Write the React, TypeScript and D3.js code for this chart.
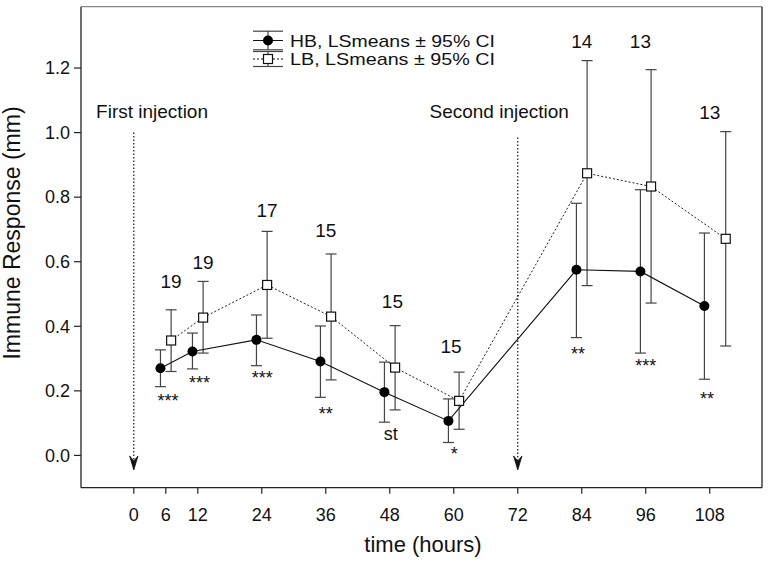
import { useMemo } from "react";
import * as d3 from "d3";

// HB group (filled circles)
const hbHours = [5, 11, 23, 35, 47, 59, 83, 95, 107];
const hbMeans = [0.27, 0.322, 0.358, 0.291, 0.196, 0.107, 0.575, 0.57, 0.463];
const hbLower = [0.213, 0.268, 0.278, 0.18, 0.103, 0.04, 0.365, 0.317, 0.236];
const hbUpper = [0.327, 0.379, 0.435, 0.401, 0.289, 0.175, 0.781, 0.823, 0.689];

// LB group (open squares)
const lbHours = [7, 13, 25, 37, 49, 61, 85, 97, 111];
const lbMeans = [0.356, 0.427, 0.528, 0.43, 0.272, 0.169, 0.874, 0.833, 0.671];
const lbLower = [0.26, 0.317, 0.363, 0.234, 0.141, 0.081, 0.526, 0.472, 0.339];
const lbUpper = [0.451, 0.539, 0.694, 0.624, 0.402, 0.258, 1.223, 1.195, 1.003];

// sample sizes above the bars
const nLabels = ["19", "19", "17", "15", "15", "15", "14", "13", "13"];
const nHours = [7, 13, 25, 36, 48.5, 59.5, 84, 95, 108];
const nValues = [0.518, 0.578, 0.738, 0.676, 0.456, 0.317, 1.262, 1.262, 1.042];

// significance marks below the bars
const sigLabels = ["***", "***", "***", "**", "st", "*", "**", "***", "**"];
const sigHours = [6.4, 12.3, 24.1, 36, 48.2, 60.1, 83.3, 96, 107.5];
const sigValues = [0.182, 0.239, 0.254, 0.143, 0.066, 0.019, 0.328, 0.289, 0.189];

// injections
const injectionLabels = ["First injection", "Second injection"];
const injectionHours = [0, 72];
const injectionFrom = [1.0, 0.985];
const injectionTip = -0.045;

const xTicks = [0, 6, 12, 24, 36, 48, 60, 72, 84, 96, 108];
const yTicks = [0, 0.2, 0.4, 0.6, 0.8, 1.0, 1.2];

const legendLabels = ["HB, LSmeans \u00b1 95% CI", "LB, LSmeans \u00b1 95% CI"];

const W = 770;
const H = 567;
const FONT = "'Liberation Sans', Arial, Helvetica, sans-serif";

const App = () => {
  const margin = { top: 6.7, right: 8, bottom: 79.3, left: 81 };
  const x = useMemo(
    () => d3.scaleLinear().domain([-9.9, 117.8]).range([margin.left, W - margin.right]),
    []
  );
  const y = useMemo(
    () => d3.scaleLinear().domain([-0.1, 1.39]).range([H - margin.bottom, margin.top]),
    []
  );

  const x0 = margin.left;
  const x1 = W - margin.right;
  const y0 = H - margin.bottom;
  const y1 = margin.top;

  const hb = hbHours.map((h, i) => ({ h, m: hbMeans[i], lo: hbLower[i], hi: hbUpper[i] }));
  const lb = lbHours.map((h, i) => ({ h, m: lbMeans[i], lo: lbLower[i], hi: lbUpper[i] }));

  const line = d3
    .line<{ h: number; m: number }>()
    .x((d) => x(d.h))
    .y((d) => y(d.m));

  const cap = 5.5;
  const errColor = "#444";

  const errorBars = (data: typeof hb, key: string) =>
    data.map((d, i) => (
      <g key={key + i} stroke={errColor} strokeWidth={1.2}>
        <line x1={x(d.h)} x2={x(d.h)} y1={y(d.lo)} y2={y(d.hi)} />
        <line x1={x(d.h) - cap} x2={x(d.h) + cap} y1={y(d.hi)} y2={y(d.hi)} />
        <line x1={x(d.h) - cap} x2={x(d.h) + cap} y1={y(d.lo)} y2={y(d.lo)} />
      </g>
    ));

  // legend geometry
  const lgX0 = 253;
  const lgX1 = 283;
  const lgMid = (lgX0 + lgX1) / 2;
  const lgRows = [40.5, 59];
  const lgCaps = [9.3, 7.5];

  return (
    <svg
      width={W}
      height={H}
      style={{ position: "absolute", left: 0, top: 0, background: "#fff" }}
      fontFamily={FONT}
    >
      {/* frame */}
      <line x1={x0} x2={x1} y1={y1} y2={y1} stroke="#888" strokeWidth={1.3} />
      <line x1={x0} x2={x0} y1={y1} y2={y0} stroke="#222" strokeWidth={1.3} />
      <line x1={x1} x2={x1} y1={y1} y2={y0} stroke="#222" strokeWidth={1.3} />
      <line x1={x0} x2={x1} y1={y0} y2={y0} stroke="#222" strokeWidth={1.3} />

      {/* y axis ticks */}
      {yTicks.map((t) => (
        <g key={"y" + t}>
          <line x1={x0 - 7} x2={x0} y1={y(t)} y2={y(t)} stroke="#222" strokeWidth={1.2} />
          <text x={x0 - 11} y={y(t)} dy="0.35em" textAnchor="end" fontSize={18} fill="#111">
            {t.toFixed(1)}
          </text>
        </g>
      ))}

      {/* x axis ticks */}
      {xTicks.map((t) => (
        <g key={"x" + t}>
          <line x1={x(t)} x2={x(t)} y1={y0} y2={y0 + 6} stroke="#222" strokeWidth={1.2} />
          <text x={x(t)} y={y0 + 33} textAnchor="middle" fontSize={18} fill="#111">
            {t}
          </text>
        </g>
      ))}

      {/* axis titles */}
      <text x={423} y={552} textAnchor="middle" fontSize={22} fill="#111">
        time (hours)
      </text>
      <text
        transform={`translate(20, ${233}) rotate(-90)`}
        textAnchor="middle"
        fontSize={23}
        fill="#111"
      >
        Immune Response (mm)
      </text>

      {/* injection arrows */}
      {injectionHours.map((h, i) => {
        const ax = x(h);
        const tip = y(injectionTip);
        return (
          <g key={"inj" + i}>
            <line
              x1={ax}
              x2={ax}
              y1={y(injectionFrom[i])}
              y2={tip - 8}
              stroke="#111"
              strokeWidth={1.2}
              strokeDasharray="1.5,2"
            />
            <path
              d={`M${ax},${tip} L${ax - 4.2},${tip - 14} L${ax},${tip - 9} L${ax + 4.2},${tip - 14} Z`}
              fill="#111"
              stroke="#111"
              strokeWidth={0.8}
            />
          </g>
        );
      })}
      <text x={x(-7.07)} y={y(1.045)} fontSize={19} fill="#111">
        {injectionLabels[0]}
      </text>
      <text x={x(81.6)} y={y(1.045)} textAnchor="end" fontSize={19} fill="#111">
        {injectionLabels[1]}
      </text>

      {/* error bars */}
      {errorBars(lb, "lbe")}
      {errorBars(hb, "hbe")}

      {/* connecting lines */}
      <path d={line(lb) || ""} fill="none" stroke="#222" strokeWidth={1} strokeDasharray="2,2" />
      <path d={line(hb) || ""} fill="none" stroke="#111" strokeWidth={1.1} />

      {/* markers */}
      {lb.map((d, i) => (
        <rect
          key={"lbm" + i}
          x={x(d.h) - 4.5}
          y={y(d.m) - 4.5}
          width={9}
          height={9}
          fill="#fff"
          stroke="#111"
          strokeWidth={1.2}
        />
      ))}
      {hb.map((d, i) => (
        <circle key={"hbm" + i} cx={x(d.h)} cy={y(d.m)} r={5} fill="#000" />
      ))}

      {/* sample sizes */}
      {nLabels.map((s, i) => (
        <text key={"n" + i} x={x(nHours[i])} y={y(nValues[i])} textAnchor="middle" fontSize={19} fill="#111">
          {s}
        </text>
      ))}

      {/* significance */}
      {sigLabels.map((s, i) => (
        <text
          key={"s" + i}
          x={x(sigHours[i])}
          y={y(sigValues[i])}
          dy={s === "st" ? "0.3em" : "0.57em"}
          textAnchor="middle"
          fontSize={18}
          fill="#111"
        >
          {s}
        </text>
      ))}

      {/* legend */}
      {lgRows.map((ry, i) => (
        <g key={"lg" + i}>
          <line x1={lgX0} x2={lgX1} y1={ry - lgCaps[i]} y2={ry - lgCaps[i]} stroke={errColor} strokeWidth={1.2} />
          <line x1={lgX0} x2={lgX1} y1={ry + lgCaps[i]} y2={ry + lgCaps[i]} stroke={errColor} strokeWidth={1.2} />
          <line x1={lgMid} x2={lgMid} y1={ry - lgCaps[i]} y2={ry + lgCaps[i]} stroke={errColor} strokeWidth={1.2} />
          <line
            x1={lgX0}
            x2={lgX1}
            y1={ry}
            y2={ry}
            stroke="#111"
            strokeWidth={1}
            strokeDasharray={i === 1 ? "2,2" : undefined}
          />
          {i === 0 ? (
            <circle cx={lgMid} cy={ry} r={5} fill="#000" />
          ) : (
            <rect x={lgMid - 4.5} y={ry - 4.5} width={9} height={9} fill="#fff" stroke="#111" strokeWidth={1.2} />
          )}
          <text x={290} y={ry} dy="0.36em" fontSize={17} textLength={205} lengthAdjust="spacingAndGlyphs" fill="#111">
            {legendLabels[i]}
          </text>
        </g>
      ))}
    </svg>
  );
};

export default App;
